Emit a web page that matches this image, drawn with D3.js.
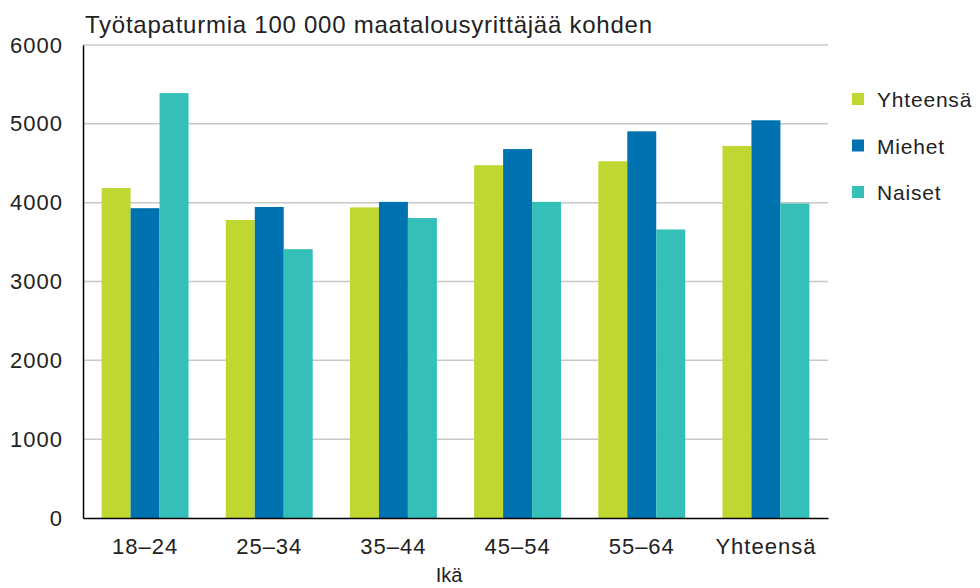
<!DOCTYPE html>
<html>
<head>
<meta charset="utf-8">
<script src="https://cdn.jsdelivr.net/npm/d3@7"></script>
<style>
  body { margin: 0; background: #fff; }
  svg text { font-family: "Liberation Sans", Arial, sans-serif; fill: #222; }
</style>
</head>
<body>
<svg id="chart" width="980" height="588"></svg>
<script>
const categories = ['18–24', '25–34', '35–44', '45–54', '55–64', 'Yhteensä'];
const seriesNames = ['Yhteensä', 'Miehet', 'Naiset'];
const yhteensa = [4185, 3780, 3940, 4475, 4525, 4720];
const miehet = [3930, 3945, 4010, 4680, 4905, 5045];
const naiset = [5390, 3410, 3805, 4010, 3660, 3990];
const yTicks = [0, 1000, 2000, 3000, 4000, 5000, 6000];
const colors = ['#bfd730', '#0072b0', '#34c0b9'];

const seriesValues = [yhteensa, miehet, naiset];
const rows = categories.map((c, i) => ({
  category: c,
  values: seriesNames.map((s, j) => ({ series: s, value: seriesValues[j][i] })),
}));

const margin = { left: 83, right: 152, top: 45, bottom: 70 };
const width = 980;
const height = 588;
const svg = d3.select('#chart');

const x = d3.scaleBand()
  .domain(categories)
  .range([margin.left, width - margin.right])
  .paddingInner(0.3)
  .paddingOuter(0.15);

const xInner = d3.scaleBand()
  .domain(seriesNames)
  .range([0, x.bandwidth()]);

const y = d3.scaleLinear()
  .domain([0, 6000])
  .range([height - margin.bottom, margin.top]);

const color = d3.scaleOrdinal().domain(seriesNames).range(colors);

// gridlines
svg.append('g')
  .selectAll('line')
  .data(yTicks.filter((t) => t > 0))
  .join('line')
  .attr('x1', margin.left)
  .attr('x2', width - margin.right)
  .attr('y1', (d) => y(d))
  .attr('y2', (d) => y(d))
  .attr('stroke', '#c8c8c8')
  .attr('stroke-width', 1.5);

// bars
svg.append('g')
  .selectAll('g')
  .data(rows)
  .join('g')
  .attr('transform', (d) => `translate(${x(d.category)},0)`)
  .selectAll('rect')
  .data((d) => d.values)
  .join('rect')
  .attr('x', (d) => xInner(d.series))
  .attr('width', xInner.bandwidth())
  .attr('y', (d) => y(d.value))
  .attr('height', (d) => y(0) - y(d.value))
  .attr('fill', (d) => color(d.series));

// y axis
const yAxis = svg.append('g')
  .attr('transform', `translate(${margin.left},0)`)
  .call(d3.axisLeft(y).tickValues(yTicks).tickSize(0).tickPadding(20).tickFormat(d3.format('d')));
yAxis.select('.domain').attr('stroke', '#000').attr('stroke-width', 1.5);
yAxis.selectAll('text').attr('font-size', 22).attr('letter-spacing', 1).attr('fill', '#222');

// x axis
const xAxis = svg.append('g')
  .attr('transform', `translate(0,${y(0)})`)
  .call(d3.axisBottom(x).tickSize(0).tickPadding(20));
xAxis.select('.domain').attr('stroke', '#000').attr('stroke-width', 1.5);
xAxis.selectAll('text').attr('font-size', 22).attr('letter-spacing', 1).attr('fill', '#222');

// title
svg.append('text')
  .attr('x', 85)
  .attr('y', 33)
  .attr('font-size', 24)
  .attr('textLength', 567)
  .attr('lengthAdjust', 'spacing')
  .text('Työtapaturmia 100 000 maatalousyrittäjää kohden');

// x label
svg.append('text')
  .attr('x', 449)
  .attr('y', 582)
  .attr('text-anchor', 'middle')
  .attr('font-size', 20)
  .text('Ikä');

// legend
const legend = svg.append('g')
  .selectAll('g')
  .data(seriesNames)
  .join('g')
  .attr('transform', (d, i) => `translate(852,${99 + i * 46.5})`);
legend.append('rect')
  .attr('x', 0)
  .attr('y', -6)
  .attr('width', 12)
  .attr('height', 12)
  .attr('fill', (d) => color(d));
legend.append('text')
  .attr('x', 25)
  .attr('y', 8)
  .attr('font-size', 21)
  .attr('letter-spacing', 0.8)
  .text((d) => d);
</script>
</body>
</html>
